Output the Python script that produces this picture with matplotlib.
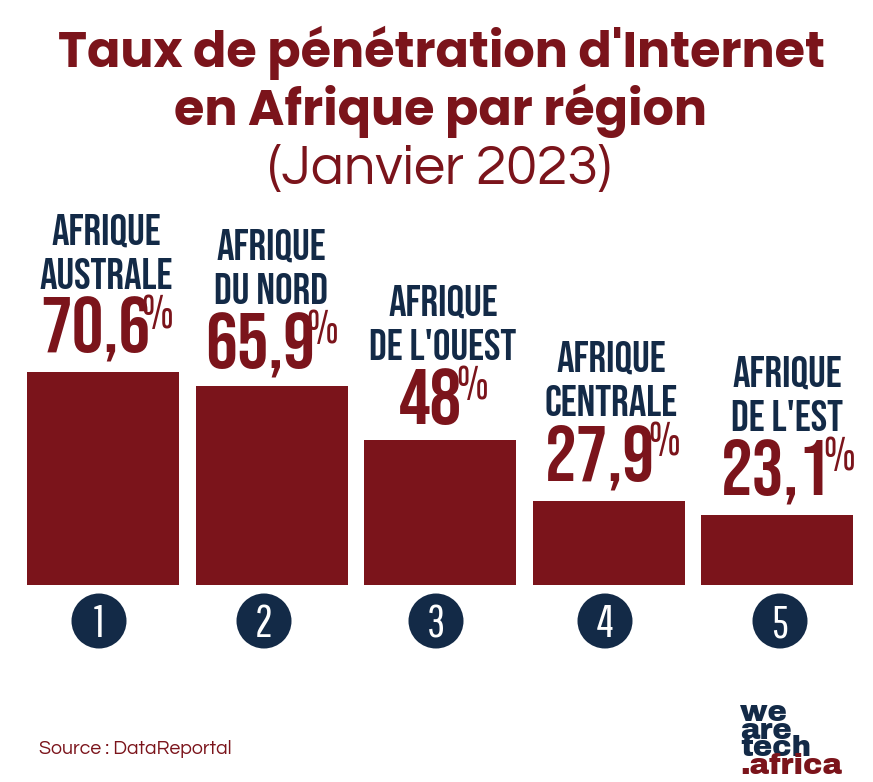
import matplotlib
matplotlib.use("Agg")
import matplotlib.pyplot as plt
from matplotlib.transforms import Affine2D
from matplotlib.patches import Circle

ranks = [1, 2, 3, 4, 5]
regions_line1 = ["AFRIQUE", "AFRIQUE", "AFRIQUE", "AFRIQUE", "AFRIQUE"]
regions_line2 = ["AUSTRALE", "DU NORD", "DE L'OUEST", "CENTRALE", "DE L'EST"]
values = [70.6, 65.9, 48, 27.9, 23.1]
value_labels = ["70,6", "65,9", "48", "27,9", "23,1"]

RED = "#7B141B"
NAVY = "#132A47"
W, H = 873, 782
COND = ["Bebas Neue", "Liberation Sans"]
TITLE = ["Poppins", "Open Sans"]
THIN = ["Questrial", "Lato"]
DIGIT = ["Pathway Gothic One", "Bebas Neue", "Liberation Sans"]
LOGO = ["Archivo Black", "Liberation Sans"]

fig = plt.figure(figsize=(W / 100, H / 100), dpi=100, facecolor="white")
ax = fig.add_axes([0, 0, 1, 1])
ax.axis("off")
ax.set_xlim(-103 / 168.5, (W - 103) / 168.5)
ax.set_ylim(-(H - 585) / 3.017, 585 / 3.017)
px = Affine2D().scale(1 / W, -1 / H).translate(0, 1) + fig.transFigure

def T(x, y, s, **kw):
    kw.setdefault("ha", "center")
    kw.setdefault("va", "baseline")
    return ax.text(x, y, s, transform=px, **kw)

ax.bar(range(5), values, width=152 / 168.5, color=RED)

T(441, 67, "Taux de pénétration d'Internet", fontsize=35.5, family=TITLE, weight="bold", color=RED)
T(441, 125, "en Afrique par région", fontsize=35.5, family=TITLE, weight="bold", color=RED)
T(440, 184, "(Janvier 2023)", fontsize=40, family=THIN, color=RED)

offset = [0, 15, 71, 127, 142]
lab_x = [106, 271, 443, 611, 787]
val_left = [40, 205, 399, 545, 721]
pct_right = [173, 338, 488, 680, 855]
for i in range(5):
    d = offset[i]
    T(lab_x[i], 245 + d, regions_line1[i], fontsize=31.5, family=COND, color=NAVY)
    T(lab_x[i], 289 + d, regions_line2[i], fontsize=31.5, family=COND, color=NAVY)
    T(val_left[i], 353 + d, value_labels[i], fontsize=57, family=COND, color=RED, ha="left")
    T(pct_right[i], 328 + d, "%", fontsize=33, family=DIGIT, color=RED, ha="right")

cx = [99, 264, 436, 605, 780]
for i, r in enumerate(ranks):
    ax.add_patch(Circle((cx[i], 621), 27.5, transform=px, color=NAVY, lw=0))
    T(cx[i], 637, str(r), fontsize=32, family=DIGIT, color="white", zorder=5)

T(39, 754, "Source : DataReportal", fontsize=14, family=THIN, color=RED, ha="left")

for s, y, c in [("we", 721, NAVY), ("are", 739, NAVY), ("tech", 756, NAVY), (".africa", 774, RED)]:
    T(740, y, s, fontsize=21, family=LOGO, color=c, ha="left")

fig.savefig("out.png", dpi=100, facecolor="white")
